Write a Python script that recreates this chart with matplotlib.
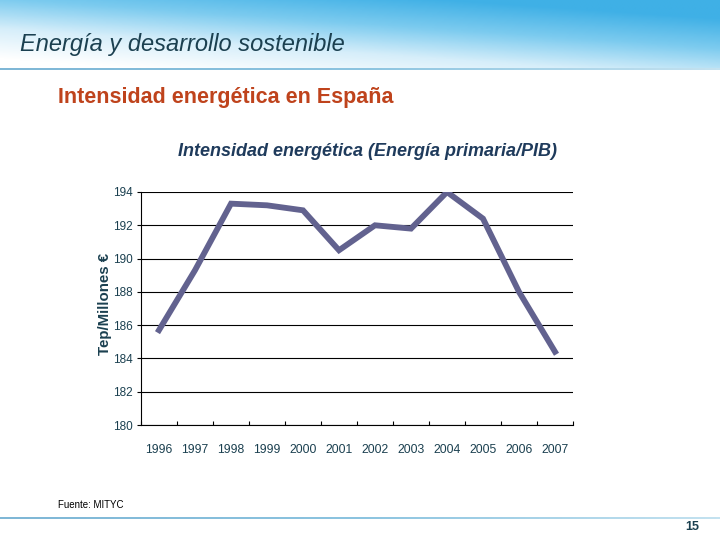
import numpy as np
import matplotlib.pyplot as plt
from matplotlib.colors import LinearSegmentedColormap

# datos
anios = ["1996", "1997", "1998", "1999", "2000", "2001",
         "2002", "2003", "2004", "2005", "2006", "2007"]
intensidad = [185.7, 189.3, 193.3, 193.2, 192.9, 190.5,
              192.0, 191.8, 194.0, 192.4, 188.0, 184.4]
yticks = [180, 182, 184, 186, 188, 190, 192, 194]

plt.rcParams["font.family"] = ["Liberation Sans", "DejaVu Sans"]
texto_oscuro = "#1b4050"

fig = plt.figure(figsize=(7.2, 5.4), dpi=100)

# fondo cielo de la cabecera
bg = fig.add_axes([0, 1 - 68 / 540, 1, 68 / 540])
xx = np.linspace(0, 1, 300)
yy = np.linspace(0, 1, 60)
X, Y = np.meshgrid(xx, yy)
Z = np.clip(0.55 * X + 0.75 * (1 - Y) - 0.1, 0, 1)
cielo = LinearSegmentedColormap.from_list("cielo", ["#ffffff", "#d6eefa", "#7ccbef", "#3fb0e6"])
bg.imshow(Z, cmap=cielo, aspect="auto", extent=[0, 1, 0, 1], origin="upper")
bg.axis("off")

# barras azules
for yb in [68.5, 517.5]:
    lin = fig.add_axes([0, 1 - (yb + 2) / 540, 1, 3 / 540])
    g = np.linspace(0, 1, 200)[None, :]
    lin.imshow(g, cmap=LinearSegmentedColormap.from_list("b", ["#7fb7d6", "#8cc4e0", "#c4e2f0"]),
               aspect="auto")
    lin.axis("off")

fig.text(20 / 720, 1 - 44 / 540, "Energía y desarrollo sostenible", fontsize=17,
         style="italic", color=texto_oscuro, va="center", ha="left")
fig.text(58 / 720, 1 - 97 / 540, "Intensidad energética en España", fontsize=15.5,
         weight="bold", color="#bf431c", va="center", ha="left")
fig.text(367 / 720, 1 - 152 / 540, "Intensidad energética (Energía primaria/PIB)",
         fontsize=13, weight="bold", style="italic", color="#1f3b5c", va="center", ha="center")

ax = fig.add_axes([141 / 720, 1 - 425 / 540, 432 / 720, 233 / 540])
x = np.arange(len(anios))
ax.plot(x, intensidad, color="#62628f", lw=4.2, solid_joinstyle="miter")
ax.set_xlim(-0.5, len(anios) - 0.5)
ax.set_ylim(180, 194)
ax.set_yticks(yticks)
ax.set_yticklabels([str(v) for v in yticks], fontsize=8.5, color=texto_oscuro)
ax.yaxis.grid(True, color="black", lw=0.8)
ax.set_axisbelow(True)
ax.set_xticks(np.arange(len(anios) + 1) - 0.5)
ax.set_xticklabels([])
ax.set_xticks(x, minor=True)
ax.set_xticklabels(anios, minor=True, fontsize=8.8, color=texto_oscuro)
ax.tick_params(axis="x", which="minor", length=0, pad=14)
ax.tick_params(axis="x", which="major", length=3, direction="in", width=0.8)
ax.tick_params(axis="y", length=3, direction="out", width=0.8, pad=3)
for s in ["top", "right"]:
    ax.spines[s].set_visible(False)
for s in ["left", "bottom"]:
    ax.spines[s].set_linewidth(0.8)
ax.set_ylabel("Tep/Millones €", fontsize=10.8, weight="bold", color=texto_oscuro)
ax.yaxis.set_label_coords(-0.067, 0.52)

fig.text(58 / 720, 1 - 505 / 540, "Fuente: MITYC", fontsize=7, color="black",
         va="center", ha="left")
fig.text(692 / 720, 1 - 527 / 540, "15", fontsize=9, weight="bold", color=texto_oscuro,
         va="center", ha="center")

fig.savefig("out.png", dpi=100)
